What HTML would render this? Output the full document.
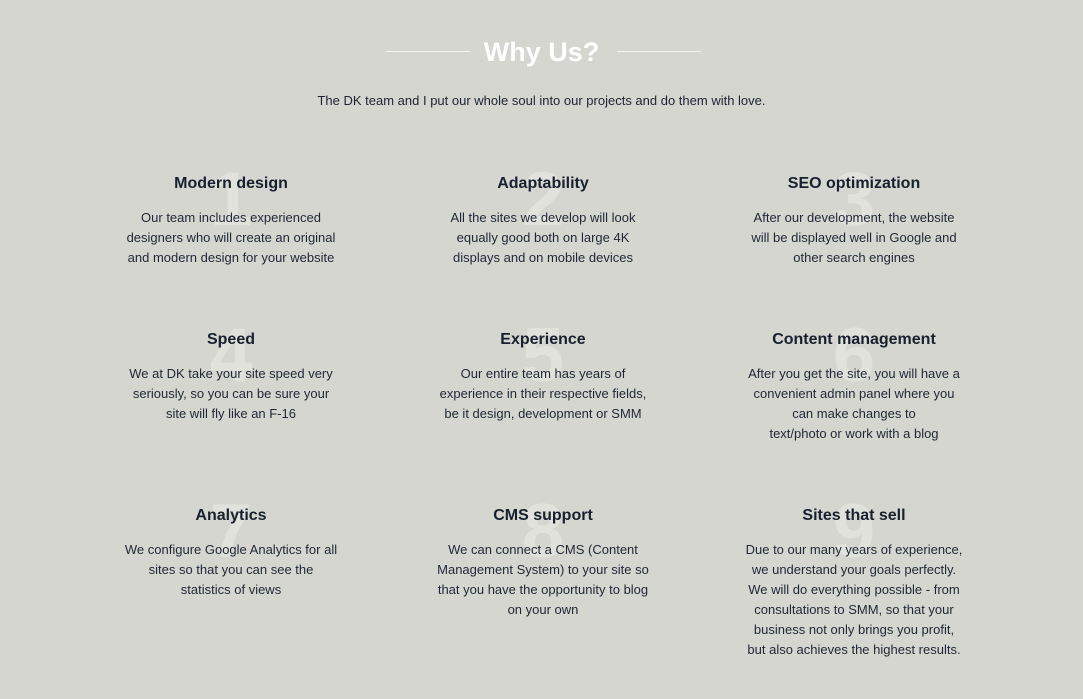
<!DOCTYPE html>
<html><head><style>
body{margin:0;width:1083px;height:699px;background:#d6d6d0;font-family:"Liberation Sans",sans-serif;position:relative;overflow:hidden;color:#1c2433}
.h{position:absolute;top:31px;left:0;width:1083px;text-align:center;font-size:27px;font-weight:bold;color:#fff;line-height:42px}
.ln{position:absolute;top:51px;height:1px;background:#f2f2ee;width:84px}
.sub{position:absolute;top:93px;left:0;width:1083px;text-align:center;font-size:13px}
.c{position:absolute;width:300px;text-align:center}
.n{position:absolute;left:0;width:300px;top:-14px;text-align:center;font-size:76px;font-weight:bold;color:#e2e2dd;line-height:80px}
.t{position:relative;font-size:16px;font-weight:bold;line-height:20px;color:#17202e}
.d{position:relative;font-size:13px;line-height:20px;margin-top:14px;color:#1f2735}
</style></head><body>
<div class="ln" style="left:386px"></div><div class="ln" style="left:617px"></div>
<div class="h">Why Us?</div>
<div class="sub">The DK team and I put our whole soul into our projects and do them with love.</div>

<div class="c" style="left:81px;top:174px"><div class="n">1</div><div class="t">Modern design</div><div class="d">Our team includes experienced<br>designers who will create an original<br>and modern design for your website</div></div>
<div class="c" style="left:393px;top:174px"><div class="n">2</div><div class="t">Adaptability</div><div class="d">All the sites we develop will look<br>equally good both on large 4K<br>displays and on mobile devices</div></div>
<div class="c" style="left:704px;top:174px"><div class="n">3</div><div class="t">SEO optimization</div><div class="d">After our development, the website<br>will be displayed well in Google and<br>other search engines</div></div>

<div class="c" style="left:81px;top:330px"><div class="n">4</div><div class="t">Speed</div><div class="d">We at DK take your site speed very<br>seriously, so you can be sure your<br>site will fly like an F-16</div></div>
<div class="c" style="left:393px;top:330px"><div class="n">5</div><div class="t">Experience</div><div class="d">Our entire team has years of<br>experience in their respective fields,<br>be it design, development or SMM</div></div>
<div class="c" style="left:704px;top:330px"><div class="n">6</div><div class="t">Content management</div><div class="d">After you get the site, you will have a<br>convenient admin panel where you<br>can make changes to<br>text/photo or work with a blog</div></div>

<div class="c" style="left:81px;top:506px"><div class="n">7</div><div class="t">Analytics</div><div class="d">We configure Google Analytics for all<br>sites so that you can see the<br>statistics of views</div></div>
<div class="c" style="left:393px;top:506px"><div class="n">8</div><div class="t">CMS support</div><div class="d">We can connect a CMS (Content<br>Management System) to your site so<br>that you have the opportunity to blog<br>on your own</div></div>
<div class="c" style="left:704px;top:506px"><div class="n">9</div><div class="t">Sites that sell</div><div class="d">Due to our many years of experience,<br>we understand your goals perfectly.<br>We will do everything possible - from<br>consultations to SMM, so that your<br>business not only brings you profit,<br>but also achieves the highest results.</div></div>
</body></html>
